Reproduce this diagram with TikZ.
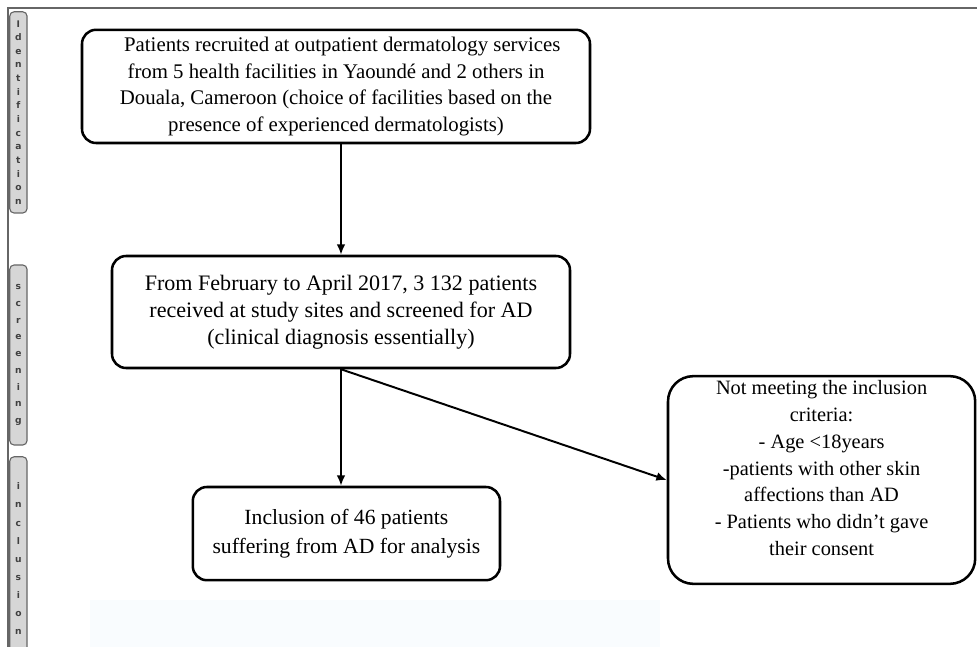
\documentclass[tikz,border=0pt]{standalone}
\usepackage{fontspec}
\setmainfont{Liberation Serif}
\newfontfamily\barfont{DejaVu Sans}
\usetikzlibrary{arrows.meta}
\usetikzlibrary{positioning}
\tikzset{stage/.style = {draw, line width = 1.8pt, rounded corners = 10, align = center, font = \fontsize{14.5}{19}\selectfont}}
\tikzset{phase/.style = {draw = mgrey, fill = mlight, line width = 0.8pt, rounded corners = 3, minimum width = 0.43cm, inner sep = 0, align = center, text = mdark, font = \barfont\bfseries\fontsize{6.5}{#1}\selectfont}}
\tikzset{flow/.style = {-{Latex[length = 2.6mm, width = 2.2mm]}, line width = 1.4pt}}
\definecolor{mgrey}{rgb}{0.4, 0.4, 0.4}
\definecolor{mlight}{rgb}{0.84, 0.84, 0.84}
\definecolor{mdark}{rgb}{0.25, 0.25, 0.25}
\definecolor{mpale}{rgb}{0.975, 0.988, 0.995}

\begin{document}
\begin{tikzpicture}
    \useasboundingbox (0, 0) rectangle (24.425, -16.175);
    \fill [mpale] (2.25, -15.0) rectangle (16.5, -16.175);
    \draw [mgrey, line width = 0.8pt] (0.2, -16.175) -- (0.2, -0.2) -- (24.425, -0.2);

    \node [phase = 9.7, minimum height = 5.03cm] (ident) at (0.46, -2.81)
      {I\\d\\e\\n\\t\\i\\f\\i\\c\\a\\t\\i\\o\\n};
    \node [phase = 11.9, minimum height = 4.5cm] (scr) at (0.46, -8.875)
      {s\\c\\r\\e\\e\\n\\i\\n\\g};
    \node [phase = 12.9, minimum height = 5.1cm] (inc) at (0.46, -13.97)
      {i\\n\\c\\l\\u\\s\\i\\o\\n};

    \node [stage, minimum width = 12.7cm, minimum height = 2.83cm, font = \fontsize{14.8}{18.9}\selectfont] (recruit) at (8.4, -2.16)
      {\hspace*{0.6em}Patients recruited at outpatient dermatology services\\
       from 5 health facilities in Yaoundé and 2 others in\\
       Douala, Cameroon (choice of facilities based on the\\
       presence of experienced dermatologists)};
    \node [stage, minimum width = 11.45cm, minimum height = 2.8cm, font = \fontsize{15.7}{19.1}\selectfont] (screen) at (8.525, -7.8)
      {From February to April 2017, 3 132 patients\\
       received at study sites and screened for AD\\
       (clinical diagnosis essentially)};
    \node [stage, minimum width = 7.68cm, minimum height = 2.33cm, font = \fontsize{15.4}{21}\selectfont] (incl) at (8.66, -13.34)
      {Inclusion of 46 patients\\
       suffering from AD for analysis};
    \node [stage, rounded corners = 18, minimum width = 7.68cm, minimum height = 5cm] (excl) at (20.54, -12.0)
      {Not meeting the inclusion\\
       criteria:\\
       - Age <18years\\
       -patients with other skin\\
       affections than AD\\
       - Patients who didn’t gave\\
       their consent\\[-2pt] \mbox{}};

    \draw [flow] (recruit.south -| screen.north) -- (screen.north);
    \draw [flow] (screen.south) -- (screen.south |- incl.north);
    \draw [flow] (screen.south) -- (excl.west);
  \end{tikzpicture}
\end{document}
